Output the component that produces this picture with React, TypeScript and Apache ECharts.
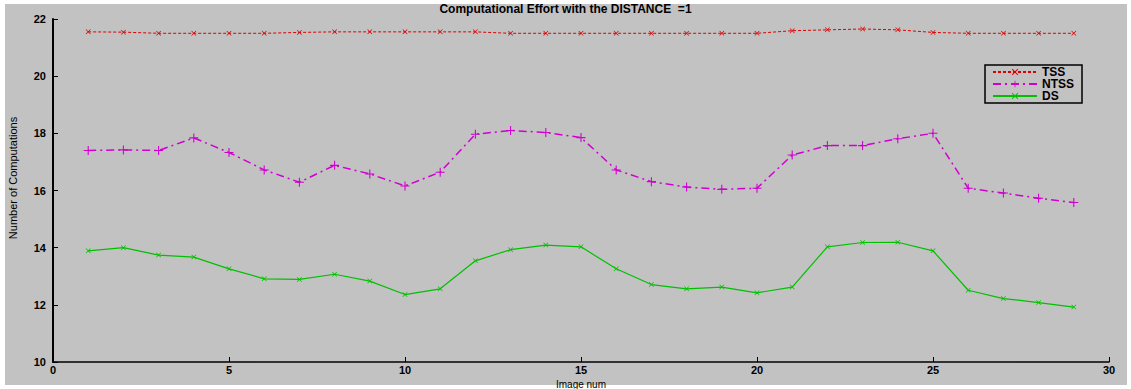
import React, { useEffect, useRef } from "react";
import * as echarts from "echarts";

const imageNum = [1, 2, 3, 4, 5, 6, 7, 8, 9, 10, 11, 12, 13, 14, 15, 16, 17, 18, 19, 20, 21, 22, 23, 24, 25, 26, 27, 28, 29];
const tss = [21.55, 21.54, 21.5, 21.5, 21.5, 21.5, 21.53, 21.55, 21.55, 21.55, 21.55, 21.55, 21.5, 21.5, 21.5, 21.5, 21.5, 21.5, 21.5, 21.5, 21.59, 21.62, 21.65, 21.62, 21.53, 21.5, 21.5, 21.5, 21.5];
const ntss = [17.4, 17.42, 17.4, 17.84, 17.33, 16.72, 16.29, 16.88, 16.58, 16.16, 16.64, 17.97, 18.1, 18.03, 17.85, 16.72, 16.31, 16.12, 16.04, 16.08, 17.24, 17.57, 17.57, 17.81, 18.0, 16.08, 15.91, 15.73, 15.58];
const ds = [13.89, 14.0, 13.74, 13.67, 13.26, 12.91, 12.89, 13.07, 12.83, 12.36, 12.56, 13.54, 13.93, 14.09, 14.03, 13.26, 12.71, 12.56, 12.62, 12.42, 12.62, 14.03, 14.18, 14.19, 13.89, 12.51, 12.22, 12.08, 11.92];
const seriesNames = ["TSS", "NTSS", "DS"];
const titleText = "Computational Effort with the DISTANCE  =1";
const xName = "Image num";
const yName = "Number of Computations";

const X_SYMBOL = "path://M0,1L1,0L5,4L9,0L10,1L6,5L10,9L9,10L5,6L1,10L0,9L4,5Z";
const PLUS_SYMBOL = "path://M4.4,0H5.6V4.4H10V5.6H5.6V10H4.4V5.6H0V4.4H4.4Z";

const FONT = "'Liberation Sans', Arial, sans-serif";

export default function App() {
  const ref = useRef<HTMLDivElement>(null);
  useEffect(() => {
    if (!ref.current) return;
    const chart = echarts.init(ref.current, undefined, { renderer: "svg" });
    const pairs = (arr: number[]) => imageNum.map((x, i) => [x, arr[i]]);
    chart.setOption({
      animation: false,
      backgroundColor: "transparent",
      title: {
        text: titleText,
        left: "center",
        top: -2,
        textStyle: { fontFamily: FONT, fontSize: 12, fontWeight: "bold", color: "#000" },
      },
      graphic: [
        {
          type: "text",
          x: 13,
          y: 178,
          rotation: Math.PI / 2,
          style: {
            text: yName,
            fontFamily: FONT,
            fontSize: 11,
            fill: "#000",
            align: "center",
            verticalAlign: "middle",
          },
        },
      ],
      legend: {
        orient: "vertical",
        left: 985,
        top: 65,
        data: seriesNames,
        backgroundColor: "#c2c2c2",
        borderColor: "#000",
        borderWidth: 1.5,
        padding: [1, 8, 1, 7],
        itemGap: 0,
        itemWidth: 44,
        itemHeight: 8,
        textStyle: { fontFamily: FONT, fontSize: 12, fontWeight: "bold", color: "#000", lineHeight: 12 },
      },
      grid: { left: 53, right: 22, top: 19, bottom: 27, outerBoundsMode: "none", containLabel: false },
      xAxis: {
        type: "value",
        min: 0,
        max: 30,
        interval: 5,
        name: xName,
        nameLocation: "middle",
        nameGap: 10,
        nameTextStyle: { fontFamily: FONT, fontSize: 10, color: "#000", lineHeight: 10 },
        axisLine: { lineStyle: { color: "#000", width: 1.5 } },
        axisTick: { inside: true, length: 5, lineStyle: { color: "#000" } },
        axisLabel: { fontFamily: FONT, fontSize: 11, fontWeight: "bold", color: "#000", margin: 2 },
        splitLine: { show: false },
      },
      yAxis: {
        type: "value",
        min: 10,
        max: 22,
        interval: 2,
        axisLine: { show: true, lineStyle: { color: "#000", width: 2 } },
        axisTick: { show: true, inside: true, length: 5, lineStyle: { color: "#000" } },
        axisLabel: { fontFamily: FONT, fontSize: 11, fontWeight: "bold", color: "#000", margin: 7 },
        splitLine: { show: false },
      },
      series: [
        {
          name: "TSS",
          type: "line",
          data: pairs(tss),
          symbol: X_SYMBOL,
          symbolSize: 5,
          color: "#dc0000",
          itemStyle: { color: "#dc0000" },
          lineStyle: { color: "#dc0000", width: 1, type: [3, 2] },
        },
        {
          name: "NTSS",
          type: "line",
          data: pairs(ntss),
          symbol: PLUS_SYMBOL,
          symbolSize: 9,
          color: "#d000d0",
          itemStyle: { color: "#d000d0" },
          lineStyle: { color: "#d000d0", width: 1.5, type: [8, 4, 2, 4] },
        },
        {
          name: "DS",
          type: "line",
          data: pairs(ds),
          symbol: X_SYMBOL,
          symbolSize: 5,
          color: "#00c000",
          itemStyle: { color: "#00c000" },
          lineStyle: { color: "#00c000", width: 1.2 },
        },
      ],
    });
    return () => chart.dispose();
  }, []);

  return (
    <div style={{ position: "fixed", left: 0, top: 0, width: 1131, height: 389, background: "#fff" }}>
      <div style={{ position: "absolute", left: 5, top: 4, width: 1122, height: 381, background: "#c2c2c2" }} />
      <div ref={ref} style={{ position: "absolute", left: 0, top: 0, width: 1131, height: 389 }} />
    </div>
  );
}
